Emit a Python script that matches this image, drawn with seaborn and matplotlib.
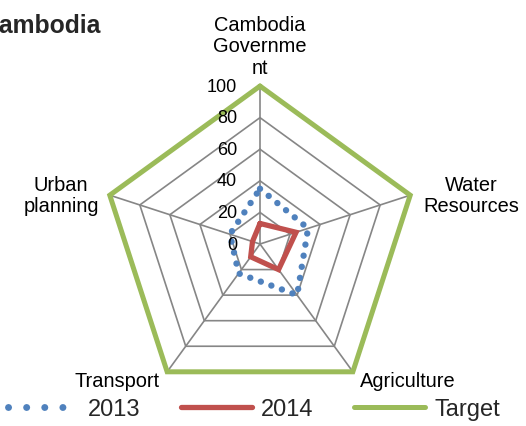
import numpy as np
import pandas as pd
import seaborn as sns
import matplotlib
matplotlib.use("Agg")
import matplotlib.pyplot as plt

# data
categories = ["Cambodia\nGovernme\nnt", "Water\nResources", "Agriculture", "Transport", "Urban\nplanning"]
values_2013 = [35, 32, 40, 23, 20]
values_2014 = [13, 24, 20, 10, 5]
values_target = [100, 100, 100, 100, 100]
ring_ticks = [0, 20, 40, 60, 80, 100]

sns.set_theme(style="white")
plt.rcParams["font.family"] = ["Liberation Sans", "DejaVu Sans"]

n = len(categories)
angles = np.arange(n) * 2 * np.pi / n  # clockwise from top


def to_xy(vals):
    vals = np.asarray(list(vals) + [vals[0]], dtype=float)
    ang = np.append(angles, angles[0])
    return pd.DataFrame({"x": vals * np.sin(ang), "y": vals * np.cos(ang)})


fig = plt.figure(figsize=(5.26, 4.27), dpi=100)
ax = fig.add_axes([0, 0, 1, 1])
ax.set_xlim(-164.6, 168.4)
ax.set_ylim(-115.2, 155.1)
ax.set_aspect("equal")
ax.axis("off")

grid_col = "#868686"
for r in ring_ticks[1:]:
    g = to_xy([r] * n)
    ax.plot(g["x"], g["y"], color=grid_col, lw=1.2, zorder=1)
for a in angles:
    ax.plot([0, 100 * np.sin(a)], [0, 100 * np.cos(a)], color=grid_col, lw=1.2, zorder=1)

for r in ring_ticks:
    ax.text(-14.5, r, str(r), ha="right", va="center", fontsize=13, color="black", zorder=5)

d13 = to_xy(values_2013)
d14 = to_xy(values_2014)
dtg = to_xy(values_target)
sns.lineplot(data=d13, x="x", y="y", sort=False, estimator=None, ax=ax, color="#4F81BD",
             lw=4.6, linestyle=(0, (0.01, 1.75)), dash_capstyle="round", label="2013", zorder=3)
sns.lineplot(data=d14, x="x", y="y", sort=False, estimator=None, ax=ax, color="#C0504D",
             lw=3.8, solid_joinstyle="miter", label="2014", zorder=4)
sns.lineplot(data=dtg, x="x", y="y", sort=False, estimator=None, ax=ax, color="#9BBB59",
             lw=3.6, solid_joinstyle="miter", label="Target", zorder=4)
ax.get_legend().remove()

# axis category labels
label_pos = [(0, 106, "center", "bottom"), (134, 31, "center", "center"),
             (93.7, -86.5, "center", "center"), (-90.5, -86.5, "center", "center"),
             (-126, 31, "center", "center")]
for lab, (lx, ly, ha, va) in zip(categories, label_pos):
    ax.text(lx, ly, lab, ha=ha, va=va, fontsize=14.4, color="black", linespacing=1.15)

fig.text(-19 / 526, 1 - 33 / 427, "Cambodia", fontsize=17.8, fontweight="bold",
         ha="left", va="baseline")

handles, labels = ax.get_legend_handles_labels()
leg = fig.legend(handles, labels, loc="center", bbox_to_anchor=(254 / 526, 1 - 410 / 427),
                 ncol=3, frameon=False, fontsize=17, handlelength=3.0, handletextpad=0.4,
                 columnspacing=1.7)
leg.get_lines()[0].set_linestyle((0, (0.01, 2.6)))
leg.get_lines()[0].set_linewidth(5)
leg.get_lines()[0].set_dash_capstyle("round")

fig.savefig("out.png", dpi=100)
